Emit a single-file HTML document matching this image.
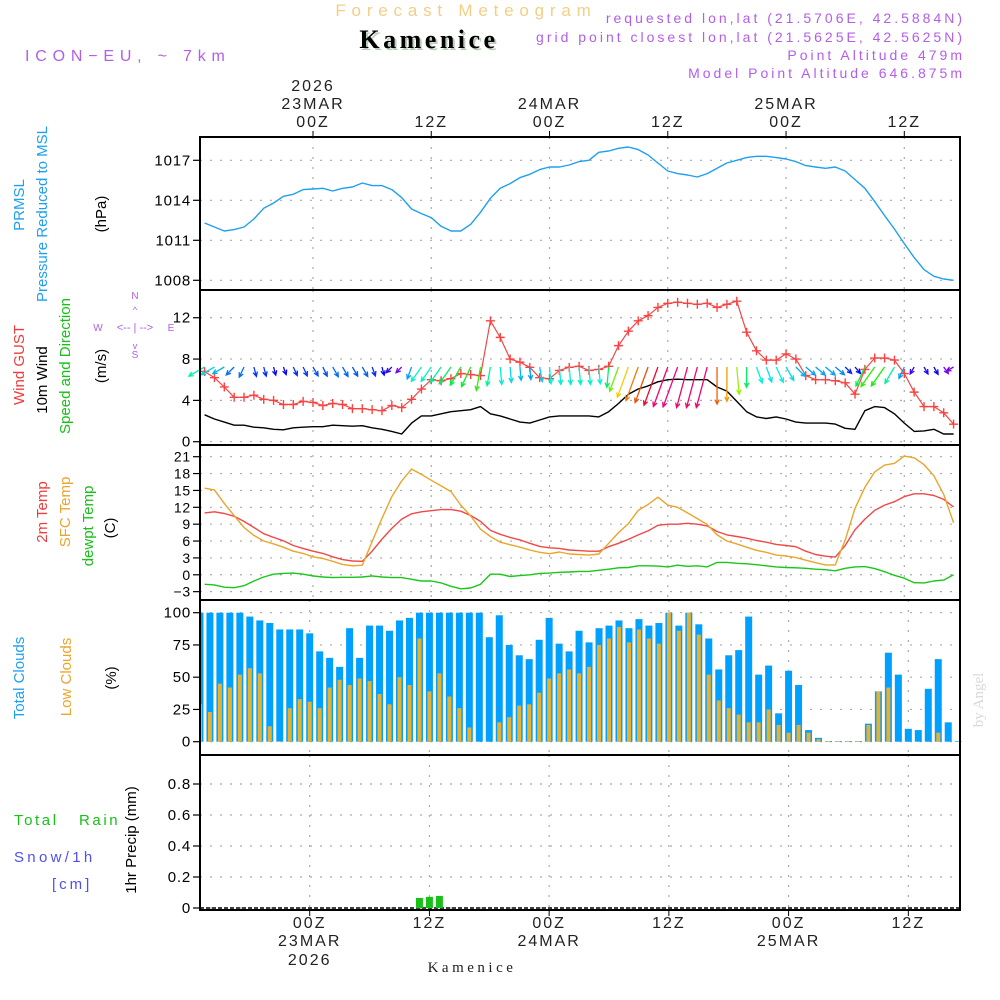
<!DOCTYPE html>
<html><head><meta charset="utf-8"><title>Forecast Meteogram - Kamenice</title>
<style>
html,body{margin:0;padding:0;background:#fff;}
svg{display:block;font-family:"Liberation Sans",sans-serif;}
</style></head>
<body>
<svg id="chart" xmlns="http://www.w3.org/2000/svg" width="1000" height="1000" viewBox="0 0 1000 1000">
<rect width="1000" height="1000" fill="#fff"/>
<g id="grid"></g>
<g id="marks"></g>
<g id="frame"></g>
<g id="labels">
<text x="466" y="16" fill="#f3cf86" font-size="17" text-anchor="middle" letter-spacing="5.8">Forecast Meteogram</text>
<text x="431" y="50" fill="#b9cdb9" font-family="Liberation Serif,serif" font-weight="bold" font-size="26" text-anchor="middle" letter-spacing="3.5">Kamenice</text>
<text x="429" y="48" fill="#000" font-family="Liberation Serif,serif" font-weight="bold" font-size="26" text-anchor="middle" letter-spacing="3.5">Kamenice</text>
<text x="25" y="61" fill="#b35ee8" font-size="16" letter-spacing="5.8">ICON−EU, ~ 7km</text>
<g fill="#b35ee8" font-size="14" text-anchor="end" letter-spacing="3">
<text x="965" y="23">requested lon,lat (21.5706E, 42.5884N)</text>
<text x="965" y="42">grid point closest lon,lat (21.5625E, 42.5625N)</text>
<text x="965" y="60">Point Altitude 479m</text>
<text x="965" y="78">Model Point Altitude 646.875m</text>
</g>
<text transform="translate(983,700) rotate(-90)" fill="#d8d8d8" font-family="Liberation Serif,serif" font-size="15" text-anchor="middle">by Angel</text>
<text x="472" y="972" fill="#222" font-family="Liberation Serif,serif" font-size="15" text-anchor="middle" letter-spacing="3.5">Kamenice</text>
<text transform="translate(24,205) rotate(-90)" fill="#1ea0f0" font-size="15" text-anchor="middle">PRMSL</text>
<text transform="translate(47,214) rotate(-90)" fill="#1ea0f0" font-size="15" text-anchor="middle">Pressure Reduced to MSL</text>
<text transform="translate(106,214) rotate(-90)" fill="#000" font-size="15" text-anchor="middle">(hPa)</text>
<text transform="translate(24,365) rotate(-90)" fill="#f03c3c" font-size="15" text-anchor="middle">Wind GUST</text>
<text transform="translate(47,380) rotate(-90)" fill="#000" font-size="15" text-anchor="middle">10m Wind</text>
<text transform="translate(70,366) rotate(-90)" fill="#18c018" font-size="15" text-anchor="middle">Speed and Direction</text>
<text transform="translate(106,366) rotate(-90)" fill="#000" font-size="15" text-anchor="middle">(m/s)</text>
<g fill="#b35ee8" font-size="10" text-anchor="middle">
<text x="135" y="299">N</text><text x="98" y="331">W</text><text x="171" y="331">E</text><text x="135" y="358">S</text>
<text x="135" y="313" font-size="9">^</text><text x="135" y="349" font-size="9">v</text>
<text x="135" y="331" font-size="11">&lt;-- | --&gt;</text>
</g>
<text transform="translate(47,512) rotate(-90)" fill="#f03c3c" font-size="15" text-anchor="middle">2m Temp</text>
<text transform="translate(70,512) rotate(-90)" fill="#eaa52a" font-size="15" text-anchor="middle">SFC Temp</text>
<text transform="translate(93,526) rotate(-90)" fill="#18c018" font-size="15" text-anchor="middle">dewpt Temp</text>
<text transform="translate(115,528) rotate(-90)" fill="#000" font-size="15" text-anchor="middle">(C)</text>
<text transform="translate(24,678) rotate(-90)" fill="#1ea0f0" font-size="15" text-anchor="middle">Total Clouds</text>
<text transform="translate(71,677) rotate(-90)" fill="#eaa52a" font-size="15" text-anchor="middle">Low Clouds</text>
<text transform="translate(116,678) rotate(-90)" fill="#000" font-size="15" text-anchor="middle">(%)</text>
<text transform="translate(136,840) rotate(-90)" fill="#000" font-size="15" text-anchor="middle">1hr Precip (mm)</text>
<text x="14" y="825" fill="#18c018" font-size="15" letter-spacing="2.6" xml:space="preserve">Total   Rain</text>
<text x="14" y="862" fill="#5050f0" font-size="15" letter-spacing="3.3">Snow/1h</text>
<text x="52" y="889" fill="#5050f0" font-size="15" letter-spacing="3">[cm]</text>
</g>
</svg>
<script>
// ---------- data ----------
const startHour = -11; // hours relative to 00Z 23MAR
const pressure = [1012.3,1012.0,1011.7,1011.8,1012.0,1012.6,1013.4,1013.8,1014.3,1014.45,1014.8,1014.85,1014.9,1014.7,1014.9,1015.0,1015.3,1015.1,1015.1,1014.8,1014.2,1013.35,1013.0,1012.7,1012.05,1011.7,1011.7,1012.2,1013.1,1014.15,1014.9,1015.25,1015.7,1015.95,1016.3,1016.5,1016.5,1016.65,1016.9,1017.0,1017.6,1017.7,1017.9,1018.0,1017.8,1017.4,1016.8,1016.2,1016.0,1015.9,1015.75,1016.0,1016.4,1016.8,1017.0,1017.2,1017.3,1017.3,1017.2,1017.1,1016.9,1016.6,1016.5,1016.4,1016.5,1016.2,1015.55,1014.9,1013.9,1012.85,1011.85,1010.75,1009.7,1008.8,1008.3,1008.1,1008.0];
const gust = [6.8,6.2,5.3,4.3,4.3,4.5,4.1,4.0,3.6,3.6,3.9,3.8,3.5,3.7,3.6,3.2,3.2,3.1,3.0,3.5,3.3,4.1,5.1,6.0,5.9,6.1,6.6,6.5,6.4,11.7,10.1,8.0,7.7,7.2,6.2,6.1,6.9,7.2,7.3,6.9,7.0,7.3,9.3,10.7,11.7,12.2,13.0,13.4,13.5,13.4,13.3,13.4,13.0,13.3,13.6,10.6,8.8,7.9,7.9,8.5,8.0,6.4,6.0,6.0,5.9,5.7,4.6,7.0,8.1,8.1,7.9,6.6,4.8,3.4,3.4,2.8,1.7];
const wind10m = [2.6,2.2,1.9,1.6,1.6,1.4,1.35,1.2,1.15,1.35,1.4,1.45,1.45,1.6,1.55,1.5,1.55,1.35,1.2,1.0,0.75,1.8,2.5,2.5,2.7,2.9,3.0,3.1,3.4,2.7,2.5,2.2,1.9,1.8,2.1,2.4,2.5,2.5,2.5,2.5,2.4,2.9,3.7,4.6,5.1,5.4,5.8,6.0,6.05,6.0,6.0,6.0,5.3,4.9,3.9,2.9,2.4,2.25,2.4,2.2,1.9,1.8,1.8,1.8,1.7,1.3,1.2,3.0,3.4,3.3,2.7,1.8,1.0,1.05,1.2,0.75,0.75];
const windDir = [60,60,60,45,25,345,345,345,340,335,335,330,335,330,330,330,330,340,345,45,45,20,35,35,35,35,30,25,10,10,355,355,355,355,350,355,355,355,355,355,355,5,20,20,20,20,20,20,20,15,15,15,0,0,355,0,340,340,335,330,315,310,310,310,310,315,320,25,35,35,30,25,30,330,330,325,60];
const temp2m = [11.0,11.2,10.9,10.4,9.5,8.4,7.3,6.65,6.05,5.2,4.7,4.2,3.8,3.2,2.7,2.45,2.4,4.2,6.35,8.25,9.9,10.85,11.2,11.4,11.6,11.6,11.3,10.55,9.5,7.9,7.2,6.65,6.2,5.6,5.05,4.8,4.7,4.4,4.3,4.2,4.2,5.0,5.6,6.3,7.1,7.8,8.8,9.0,9.0,9.15,9.0,8.7,7.7,7.1,6.8,6.5,6.1,5.8,5.4,5.2,5.0,4.2,3.6,3.3,3.15,5.2,8.0,9.9,11.45,12.4,13.0,13.9,14.4,14.4,14.1,13.4,12.05];
const tempSfc = [15.4,15.1,12.7,10.5,8.4,7.0,6.0,5.5,4.9,4.2,3.8,3.2,2.9,2.4,1.85,1.6,1.7,5.9,10.05,13.9,16.7,18.8,17.85,16.8,15.8,14.8,12.4,10.45,8.1,6.8,5.8,5.35,4.9,4.4,4.0,3.75,4.05,3.7,3.6,3.5,3.7,5.6,7.5,9.1,11.45,12.5,13.8,12.4,12.0,11.0,10.0,8.95,7.1,6.0,5.5,4.9,4.35,4.0,3.5,3.35,3.05,2.6,2.15,1.75,1.75,6.2,11.8,15.55,18.3,19.5,19.8,21.1,20.8,19.6,17.6,14.3,9.25];
const dewpt = [-1.7,-1.8,-2.2,-2.3,-1.95,-1.1,-0.4,0.1,0.25,0.3,0.1,-0.2,-0.4,-0.5,-0.45,-0.45,-0.4,-0.2,-0.4,-0.5,-0.5,-0.8,-1.1,-1.1,-1.45,-2.05,-2.5,-2.35,-1.7,0.1,0.1,-0.3,-0.15,0.0,0.25,0.3,0.45,0.5,0.6,0.6,0.8,1.0,1.25,1.3,1.6,1.6,1.55,1.4,1.7,1.5,1.6,1.4,2.2,2.2,2.05,1.95,1.8,1.6,1.4,1.3,1.25,1.15,1.0,0.9,0.7,1.15,1.4,1.45,1.1,0.55,-0.1,-0.6,-1.4,-1.45,-1.1,-0.95,0.0];
const totalClouds = [100,100,100,100,100,97,94,92,87,87,87,84,70,65,58,88,65,90,90,86,94,96,100,100,100,100,100,100,100,81,98,75,67,64,79,96,76,70,86,77,88,90,94,88,95,90,92,100,90,100,91,80,56,67,71,97,52,59,22,55,44,9,3,0.5,0.5,0.5,0.5,14,39,69,52,10,9,41,64,15,0.5];
const lowClouds = [29,23,45,42,52,57,53,12,0.5,26,33,31,26,42,48,44,49,47,37,29,50,44,80,39,53,35,26,11,0,0,15,19,28,29,38,49,53,56,53,58,75,80,89,77,87,80,76,100,86,100,83,52,32,26,21,15,15,25,13,7,13,7,2,0.5,0.5,0.5,0.5,13,39,42,0,0,0,0,7,0,0];
const precipHours = [11,12,13];
const precipValues = [0.065,0.072,0.078];
const pressureTicks = [1017,1014,1011,1008];
const windTicks = [12,8,4,0];
const tempTicks = [21,18,15,12,9,6,3,0,-3];
const cloudTicks = [100,75,50,25,0];
const precipTicks = [0.8,0.6,0.4,0.2,0];
const precipTickLabels = ["0.8","0.6","0.4","0.2","0"];
const timeTickHours = [0,12,24,36,48,60];
const timeTickLabels = ["00Z","12Z","00Z","12Z","00Z","12Z"];
const dateLabels = ["23MAR","","24MAR","","25MAR",""];

// ---------- axes ----------
const L=200, R=960;
const panels = {p:[137,290], w:[290,445], t:[445,600], c:[600,755], r:[755,910]};
const xTop = h => 313 + 9.855*h;
const xBot = h => 309.7 + 9.977*h;
const yP = v => 160.3 + (1017 - v)*13.333;
const yW = v => 441.7 - v*10.33;
const yT = v => 456.7 + (21 - v)*5.623;
const yC = v => 741.7 - v*1.29;
const yR = v => 908 - v*155;
const NS='http://www.w3.org/2000/svg';
function mk(tag, attrs, parent){const e=document.createElementNS(NS,tag);for(const k in attrs)e.setAttribute(k,attrs[k]);parent.appendChild(e);return e;}
const grid=document.getElementById('grid'), marks=document.getElementById('marks'), frame=document.getElementById('frame'), labels=document.getElementById('labels');

function hgrid(vals, yf, fmt, fs, nm){
  vals.forEach((v,i)=>{
    const y=yf(v);
    const g=mk('line',{x1:L,x2:R,y1:y,y2:y,stroke:'#aaa','stroke-width':1.2,'stroke-dasharray':'2,8'},grid);
    
    
    const tk=mk('line',{x1:L-7,x2:L,y1:y,y2:y,stroke:'#000','stroke-width':1.2},frame);
    
    
    const t=mk('text',{x:L-9,y:y+5,'font-size':fs,'text-anchor':'end',fill:'#000','letter-spacing':'0.8'},labels);
    t.textContent=fmt(v,i);
    
    
  });
}
hgrid(pressureTicks,yP,v=>String(v),15,'pressure-axis');
hgrid(windTicks,yW,v=>String(v),15,'wind-axis');
hgrid(tempTicks,yT,v=>v<0?'−'+(-v):String(v),14,'temp-axis');
hgrid(cloudTicks,yC,v=>String(v),15,'clouds-axis');
hgrid(precipTicks,yR,(v,i)=>precipTickLabels[i],15,'precip-axis');

timeTickHours.forEach(h=>{
  [['p',xTop],['w',xTop],['t',xTop],['c',xBot],['r',xBot]].forEach(([k,xf])=>{
    const x=xf(h);
    const g=mk('line',{x1:x,x2:x,y1:panels[k][0],y2:panels[k][1],stroke:'#aaa','stroke-width':1.2,'stroke-dasharray':'2,8'},grid);
    
    
  });
  const t1=mk('line',{x1:xTop(h),x2:xTop(h),y1:131,y2:137,stroke:'#000'},frame);
  
  
  const t2=mk('line',{x1:xBot(h),x2:xBot(h),y1:910,y2:916,stroke:'#000'},frame);
  
  
});
const LS='2';
timeTickHours.forEach((h,i)=>{
  const a=mk('text',{x:xTop(h),y:127,'font-size':16,'text-anchor':'middle',fill:'#222','letter-spacing':LS},labels);
  a.textContent=timeTickLabels[i];
  
  
  const b=mk('text',{x:xBot(h),y:928,'font-size':16,'text-anchor':'middle',fill:'#222','letter-spacing':LS},labels);
  b.textContent=timeTickLabels[i];
  
  
  if(dateLabels[i]){
    const c=mk('text',{x:xTop(h),y:109,'font-size':16,'text-anchor':'middle',fill:'#222','letter-spacing':LS},labels);
    c.textContent=dateLabels[i];
    
    
    const d=mk('text',{x:xBot(h),y:946,'font-size':16,'text-anchor':'middle',fill:'#222','letter-spacing':LS},labels);
    d.textContent=dateLabels[i];
    
    
  }
});
const y1=mk('text',{x:xTop(0),y:91,'font-size':16,'text-anchor':'middle',fill:'#222','letter-spacing':LS},labels);
y1.textContent='2026';


const y2=mk('text',{x:xBot(0),y:965,'font-size':16,'text-anchor':'middle',fill:'#222','letter-spacing':LS},labels);
y2.textContent='2026';



// ---------- clouds ----------
totalClouds.forEach((v,i)=>{
  const x=xBot(startHour+i);
  const b=mk('rect',{x:Math.max(L,x-3.5),y:yC(v),width:Math.min(7,x+3.5-L),height:yC(0)-yC(v),fill:'#00a0ff'},marks);
  
  
});
lowClouds.forEach((v,i)=>{
  const x=xBot(startHour+i);
  const b=mk('rect',{x:Math.max(L,x-2),y:yC(v),width:Math.min(4,x+2-L),height:yC(0)-yC(v),fill:'#e8b030'},marks);
  
  
});
// ---------- precip ----------
mk('line',{x1:L,x2:R,y1:yR(0),y2:yR(0),stroke:'#000','stroke-width':1.5,'stroke-dasharray':'4,2'},marks);
precipHours.forEach((h,i)=>{
  const x=xBot(h);
  const b=mk('rect',{x:x-3.5,y:yR(precipValues[i]),width:7,height:yR(0)-yR(precipValues[i]),fill:'#18c018'},marks);
  
  
});

// ---------- lines ----------
function line(arr, yf, color, nm, w){
  const pts=arr.map((v,i)=>xTop(startHour+i).toFixed(1)+','+yf(v).toFixed(1)).join(' ');
  const p=mk('polyline',{points:pts,fill:'none',stroke:color,'stroke-width':w||1.4,'stroke-linejoin':'round'},marks);
  
  
}
line(pressure,yP,'#1ea0f0','pressure-line');
line(wind10m,yW,'#000','wind-10m-line');
line(gust,yW,'#f04848','wind-gust-line',1.2);
gust.forEach((v,i)=>{
  const x=xTop(startHour+i), y=yW(v);
  const c=mk('path',{d:`M${x-4.5},${y}H${x+4.5}M${x},${y-4.5}V${y+4.5}`,stroke:'#ff4040','stroke-width':1.4},marks);
  
  
});
line(temp2m,yT,'#f04848','temp-2m-line');
line(tempSfc,yT,'#eaa52a','temp-sfc-line');
line(dewpt,yT,'#18c818','dewpt-line');

// ---------- wind arrows ----------
const hueStops=[[0.7,272],[1.3,232],[1.8,200],[2.3,182],[2.6,165],[3.2,122],[4.0,75],[4.6,52],[5.0,35],[5.5,15],[6.1,-35]];
function speedHue(s){
  if(s<=hueStops[0][0])return hueStops[0][1];
  for(let k=1;k<hueStops.length;k++){if(s<=hueStops[k][0]){const a=hueStops[k-1],b=hueStops[k];return a[1]+(b[1]-a[1])*(s-a[0])/(b[0]-a[0]);}}
  return hueStops[hueStops.length-1][1];
}
windDir.forEach((d,i)=>{
  const s=wind10m[i], x=xTop(startHour+i), y=367;
  const len=Math.max(8,7*s), r=d*Math.PI/180;
  const ux=-Math.sin(r), uy=Math.cos(r);
  const ex=x+ux*len, ey=y+uy*len;
  const hl=5, a=0.45;
  const c1x=ex-hl*(ux*Math.cos(a)-uy*Math.sin(a)), c1y=ey-hl*(uy*Math.cos(a)+ux*Math.sin(a));
  const c2x=ex-hl*(ux*Math.cos(a)+uy*Math.sin(a)), c2y=ey-hl*(uy*Math.cos(a)-ux*Math.sin(a));
  let hue=speedHue(s); if(hue<0)hue+=360;
  const col=`hsl(${hue.toFixed(0)},95%,48%)`;
  const p=mk('path',{d:`M${x},${y}L${ex},${ey}M${c1x},${c1y}L${ex},${ey}L${c2x},${c2y}`,stroke:col,'stroke-width':1.3,fill:'none'},marks);
  
  
});

// ---------- frame ----------
const fr=mk('rect',{x:L,y:137,width:R-L,height:910-137,fill:'none',stroke:'#000','stroke-width':2},frame);


[290,445,600,755].forEach(y=>{
  const s=mk('line',{x1:L,x2:R,y1:y,y2:y,stroke:'#000','stroke-width':2},frame);
  
  
});
</script>
</body></html>
